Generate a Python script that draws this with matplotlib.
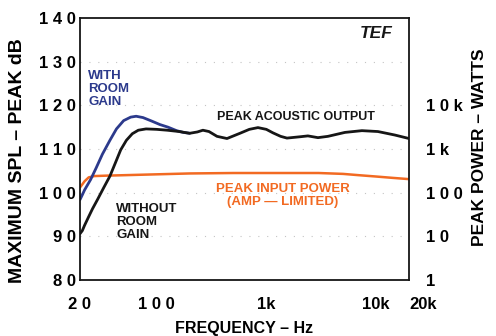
import matplotlib
matplotlib.use("Agg")
from matplotlib import pyplot as plt

plt.rcParams['font.family'] = ['Liberation Sans', 'DejaVu Sans']
plt.rcParams['font.weight'] = 'bold'

# peak acoustic output, without room gain (Hz, dB)
freq_out = [20, 21, 22, 24, 26, 29, 33, 37.5, 42, 47, 53, 60, 68, 80, 100, 125,
            160, 200, 235, 264, 300, 355, 438, 575, 700, 839, 1000, 1149, 1350,
            1542, 2026, 2394, 2956, 3648, 5209, 7441, 10410, 14860, 20000]
spl_out = [90.6, 91.3, 92.5, 94.5, 96.3, 98.5, 101.2, 103.8, 106.8, 109.8, 112.0,
           113.5, 114.3, 114.6, 114.5, 114.3, 114.0, 113.6, 113.9, 114.3, 114.0,
           112.9, 112.4, 113.6, 114.5, 114.9, 114.5, 113.7, 112.9, 112.5, 112.8,
           113.0, 112.6, 112.9, 113.8, 114.2, 114.0, 113.2, 112.4]

# with room gain (low end only, joins the main curve near 200 Hz)
freq_room = [20, 21, 22, 25, 28, 32, 37.5, 43, 50, 58, 65, 75, 90, 107, 127, 152,
             175, 200]
spl_room = [98.4, 99.5, 100.6, 103.0, 105.6, 108.8, 112.0, 114.6, 116.5, 117.3,
            117.5, 117.2, 116.4, 115.6, 115.0, 114.2, 113.8, 113.6]

# peak input power, amp limited (Hz, dB equivalent)
freq_pwr = [20, 21, 22, 24, 27, 35, 50, 100, 200, 500, 1000, 3000, 5000, 7000,
            10000, 14000, 20000]
spl_pwr = [101.2, 101.9, 102.6, 103.5, 103.8, 103.9, 104.0, 104.2, 104.4, 104.5,
           104.5, 104.5, 104.3, 104.0, 103.7, 103.4, 103.1]

x_ticks = [20, 100, 1000, 10000, 20000]
x_labels = ['2 0', '1 0 0', '1k', '10k', '20k']
y_ticks = [80, 90, 100, 110, 120, 130, 140]
y_labels = ['8 0', '9 0', '1 0 0', '1 1 0', '1 2 0', '1 3 0', '1 4 0']
w_ticks = [1, 10, 100, 1000, 10000]
w_labels = ['1', '1 0', '1 0 0', '1 k', '1 0 k']

black = '#161616'
blue = '#2c3a8c'
orange = '#f26a22'

fig = plt.figure(figsize=(4.96, 3.36), dpi=100)
ax = fig.add_axes([80 / 496, 56 / 336, 329 / 496, 262 / 336])

ax.set_xscale('log')
ax.set_xlim(20, 20000)
ax.set_ylim(80, 140)

for g in [90, 100, 110, 120, 130]:
    ax.axhline(g, color='#c4c4c4', lw=0.8, ls=(0, (1, 7)), zorder=0)

ax.plot(freq_pwr, spl_pwr, color=orange, lw=1.8, solid_capstyle='round')
ax.plot(freq_room, spl_room, color=blue, lw=2.0, solid_capstyle='round')
ax.plot(freq_out, spl_out, color=black, lw=2.0, solid_capstyle='round')

ax.set_xticks(x_ticks)
ax.set_xticklabels(x_labels, fontsize=12)
ax.xaxis.set_minor_locator(matplotlib.ticker.NullLocator())
ax.set_yticks(y_ticks)
ax.set_yticklabels(y_labels, fontsize=12)
ax.tick_params(axis='x', length=0, pad=12)
ax.tick_params(axis='y', length=0, pad=3)
last = ax.get_xticklabels()[-1]
last.set_ha('left')

for s in ax.spines.values():
    s.set_linewidth(1.3)
    s.set_color(black)

# right hand scale in watts: 80 dB = 1 W, 10 dB per decade
ax2 = ax.twinx()
ax2.set_yscale('log')
ax2.set_ylim(1, 1e6)
ax2.set_yticks(w_ticks)
ax2.set_yticklabels(w_labels, fontsize=12)
ax2.yaxis.set_minor_locator(matplotlib.ticker.NullLocator())
ax2.tick_params(axis='y', length=0, pad=12)
for s in ax2.spines.values():
    s.set_visible(False)

fs = 9.5
ax.text(23.7, 128.2, 'WITH\nROOM\nGAIN', color=blue, fontsize=fs, ha='left',
        va='top', linespacing=1.15)
ax.text(42.7, 97.7, 'WITHOUT\nROOM\nGAIN', color=black, fontsize=fs, ha='left',
        va='top', linespacing=1.15)
ax.text(355, 117.3, 'PEAK ACOUSTIC OUTPUT', color=black, fontsize=9, ha='left',
        va='center')
ax.text(1416, 99.4, 'PEAK INPUT POWER\n(AMP \u2014 LIMITED)', color=orange,
        fontsize=fs, ha='center', va='center', linespacing=1.15)
ax.text(14170, 136.4, 'TEF', color=black, fontsize=12.5, style='italic',
        ha='right', va='center')

fig.text(18 / 496, 1 - 161 / 336, 'MAXIMUM SPL \u2013 PEAK dB', rotation=90,
         fontsize=14, ha='center', va='center')
fig.text(479 / 496, 1 - 147 / 336, 'PEAK POWER \u2013 WATTS', rotation=90,
         fontsize=12.5, ha='center', va='center')
fig.text(244 / 496, 1 - 328 / 336, 'FREQUENCY \u2013 Hz', fontsize=11.5,
         ha='center', va='center')

fig.savefig('out.png', dpi=100)
